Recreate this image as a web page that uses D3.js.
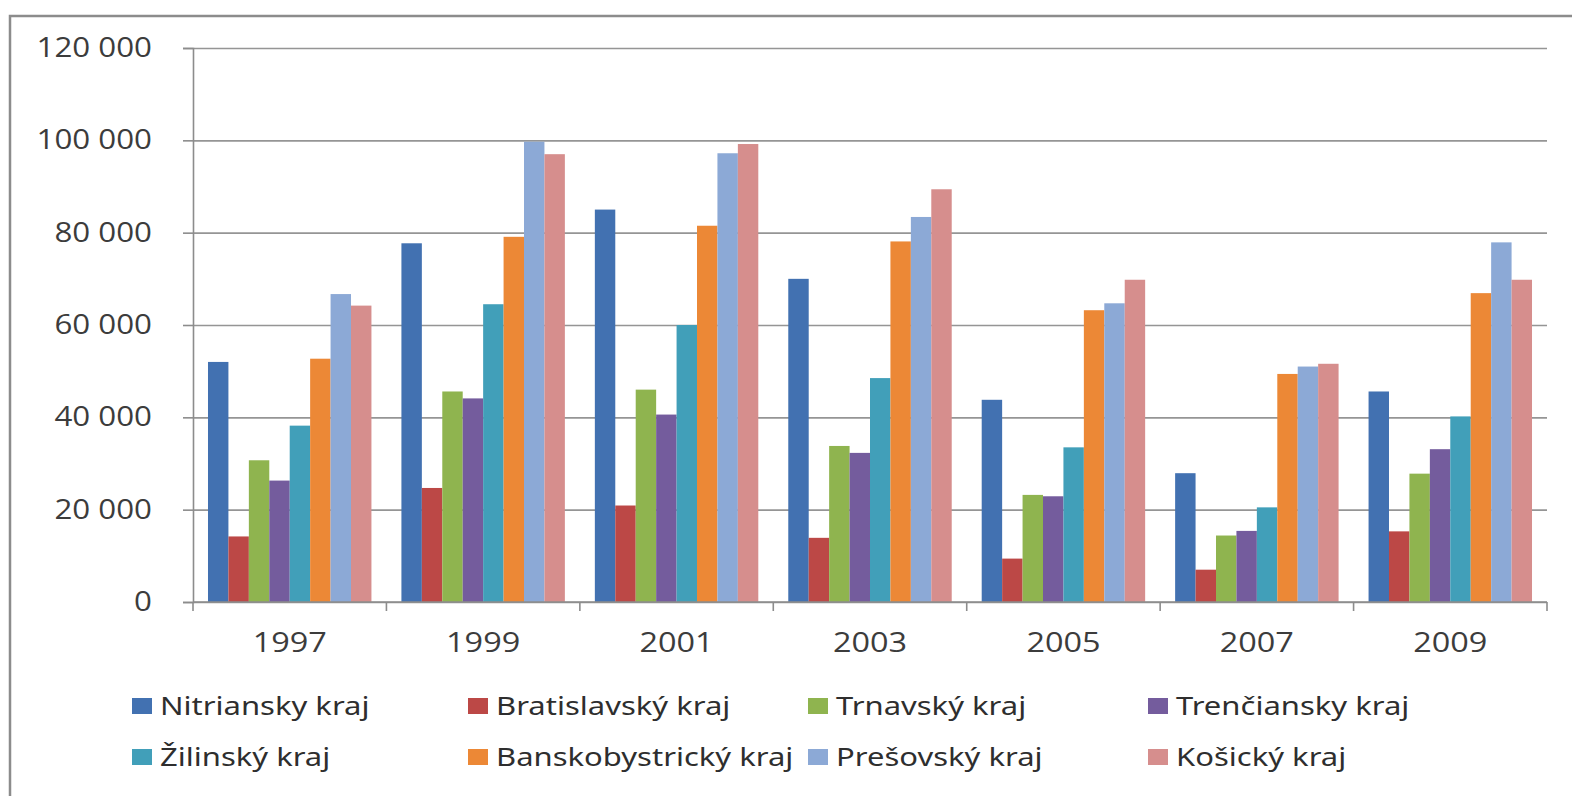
<!DOCTYPE html>
<html>
<head>
<meta charset="utf-8">
<script src="https://cdn.jsdelivr.net/npm/d3@7"></script>
<style>
  html, body { margin: 0; padding: 0; background: #ffffff; }
  svg { display: block; }
</style>
</head>
<body>
<svg id="chart" width="1572" height="796"></svg>
<script>
// ---- data ----
const years = ["1997", "1999", "2001", "2003", "2005", "2007", "2009"];
const regions = ["Nitriansky kraj", "Bratislavský kraj", "Trnavský kraj", "Trenčiansky kraj",
                 "Žilinský kraj", "Banskobystrický kraj", "Prešovský kraj", "Košický kraj"];
const nitriansky      = [52000, 77700, 85000, 70000, 43800, 27900, 45600];
const bratislavsky    = [14200, 24700, 20900, 13900,  9400,  7000, 15300];
const trnavsky        = [30700, 45600, 46000, 33800, 23200, 14400, 27800];
const trenciansky     = [26300, 44100, 40600, 32300, 22900, 15400, 33100];
const zilinsky        = [38200, 64500, 60000, 48500, 33500, 20500, 40200];
const banskobystricky = [52700, 79100, 81500, 78100, 63200, 49400, 66900];
const presovsky       = [66700, 99700, 97200, 83400, 64700, 51000, 77900];
const kosicky         = [64200, 97000, 99200, 89400, 69800, 51600, 69800];
const seriesValues = [nitriansky, bratislavsky, trnavsky, trenciansky, zilinsky, banskobystricky, presovsky, kosicky];
const yTicks = [0, 20000, 40000, 60000, 80000, 100000, 120000];
const colors = ["#4271b1", "#bc4846", "#8fb44f", "#745c9d", "#419fb9", "#ec8836", "#8ca9d6", "#d68e8d"];

// ---- layout ----
const svg = d3.select("#chart");
const plotLeft = 193, plotRight = 1547, plotTop = 48, plotBottom = 602;
const textStretch = 1.16;
const fmt = d3.formatLocale({ decimal: ",", thousands: " ", grouping: [3], currency: ["", ""] }).format(",d");

// frame
svg.append("path")
  .attr("d", "M10,796 L10,16 L1572,16")
  .attr("fill", "none").attr("stroke", "#8c8c8c").attr("stroke-width", 2.5);

const x0 = d3.scaleBand().domain(years).range([plotLeft, plotRight]).paddingInner(0.155).paddingOuter(0.0775);
const x1 = d3.scaleBand().domain(regions).range([0, x0.bandwidth()]).padding(0);
const y = d3.scaleLinear().domain([0, 120000]).range([plotBottom, plotTop]);

// gridlines
svg.append("g")
  .attr("transform", `translate(${plotLeft},0)`)
  .call(d3.axisLeft(y).tickValues(yTicks).tickSize(-(plotRight - plotLeft)).tickFormat(""))
  .call(g => g.select(".domain").remove())
  .call(g => g.selectAll("line").attr("stroke", "#959595").attr("stroke-width", 1.6));

// bars
const groups = svg.append("g").selectAll("g")
  .data(years)
  .join("g")
  .attr("transform", d => `translate(${x0(d)},0)`);

groups.selectAll("rect")
  .data((yr, i) => regions.map((r, k) => ({ region: r, value: seriesValues[k][i], color: colors[k] })))
  .join("rect")
  .attr("x", d => x1(d.region))
  .attr("width", x1.bandwidth())
  .attr("y", d => y(d.value))
  .attr("height", d => y(0) - y(d.value))
  .attr("fill", d => d.color);

// y axis
svg.append("g")
  .attr("transform", `translate(${plotLeft},0)`)
  .call(d3.axisLeft(y).tickValues(yTicks).tickSize(10).tickPadding(31).tickFormat(fmt))
  .call(g => g.select(".domain").attr("stroke", "#8c8c8c").attr("stroke-width", 1.6))
  .call(g => g.selectAll(".tick line").attr("stroke", "#8c8c8c").attr("stroke-width", 1.6))
  .call(g => g.selectAll(".tick text")
    .attr("x", -41 / textStretch)
    .attr("transform", `scale(${textStretch},1)`)
    .attr("font-family", "'Open Sans', sans-serif")
    .attr("font-size", 27)
    .attr("fill", "#3c3c3c"));

// x axis
const xAxisG = svg.append("g").attr("transform", `translate(0,${plotBottom})`);
xAxisG.append("line")
  .attr("x1", plotLeft).attr("x2", plotRight).attr("y1", 0).attr("y2", 0)
  .attr("stroke", "#8c8c8c").attr("stroke-width", 1.6);
const step = x0.step();
const bounds = years.map(d => x0(d) - step * x0.paddingInner() / 2).concat([plotRight]);
xAxisG.selectAll("line.bt")
  .data(bounds)
  .join("line")
  .attr("class", "bt")
  .attr("x1", d => d).attr("x2", d => d)
  .attr("y1", 0).attr("y2", 9)
  .attr("stroke", "#8c8c8c").attr("stroke-width", 1.6);
xAxisG.selectAll("text")
  .data(years)
  .join("text")
  .attr("transform", d => `translate(${x0(d) + x0.bandwidth() / 2},50) scale(${textStretch + 0.04},1)`)
  .attr("text-anchor", "middle")
  .attr("font-family", "'Open Sans', sans-serif")
  .attr("font-size", 27)
  .attr("fill", "#3c3c3c")
  .text(d => d);

// legend
const legCols = [132, 468, 808, 1148];
const legRows = [706, 757];
const leg = svg.append("g").selectAll("g")
  .data(regions)
  .join("g")
  .attr("transform", (d, i) => `translate(${legCols[i % 4]},${legRows[Math.floor(i / 4)]})`);
leg.append("rect")
  .attr("x", 0).attr("y", -8).attr("width", 20).attr("height", 16)
  .attr("fill", (d, i) => colors[i]);
leg.append("text")
  .attr("transform", `translate(28,0) scale(1.24,1)`)
  .attr("dy", "0.35em")
  .attr("font-family", "'Noto Sans', sans-serif")
  .attr("font-size", 25)
  .attr("fill", "#2e2e2e")
  .text(d => d);
</script>
</body>
</html>
